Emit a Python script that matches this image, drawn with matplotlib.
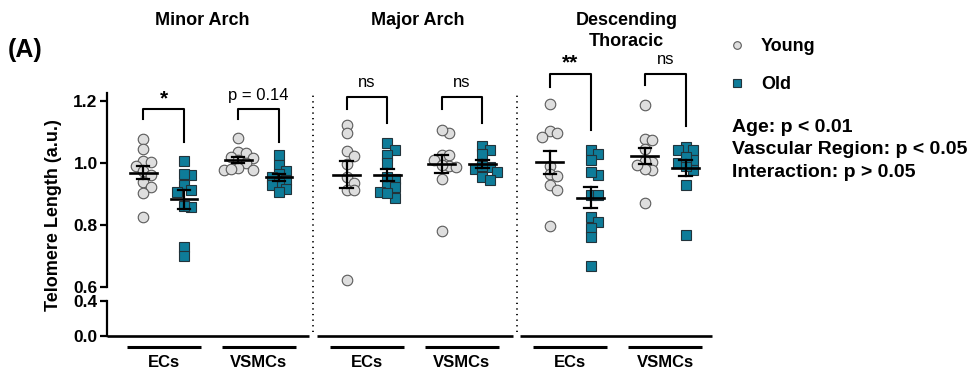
import numpy as np
import matplotlib
matplotlib.use("Agg")
import matplotlib.pyplot as plt
from matplotlib.lines import Line2D

plt.rcParams['font.family'] = ['Liberation Sans', 'DejaVu Sans']

# telomere length (a.u.)
regions = ['Minor Arch', 'Major Arch', 'Descending\nThoracic']
cells = ['ECs', 'VSMCs']
groups = ['Young', 'Old']

minor_ecs_young = [1.076, 1.046, 1.006, 1.003, 0.99, 0.975, 0.96, 0.939, 0.923, 0.903, 0.826]
minor_ecs_old = [1.005, 0.962, 0.966, 0.928, 0.906, 0.912, 0.860, 0.863, 0.729, 0.702]
minor_vsmc_young = [1.079, 1.036, 1.033, 1.02, 1.015, 1.01, 1.0, 0.985, 0.979, 0.979, 0.982]
minor_vsmc_old = [1.025, 0.995, 0.975, 0.965, 0.955, 0.944, 0.935, 0.928, 0.915, 0.906]

major_ecs_young = [1.122, 1.095, 1.038, 1.023, 0.998, 0.955, 0.937, 0.914, 0.914, 0.624]
major_ecs_old = [1.063, 1.041, 1.025, 1.001, 0.950, 0.955, 0.925, 0.923, 0.906, 0.888, 0.902]
major_vsmc_young = [1.098, 1.105, 1.027, 1.025, 1.009, 0.99, 0.987, 0.993, 0.950, 0.781]
major_vsmc_old = [1.054, 1.043, 1.030, 0.987, 0.982, 0.99, 0.971, 0.955, 0.946]

desc_ecs_young = [1.189, 1.102, 1.097, 1.082, 0.989, 0.964, 0.957, 0.928, 0.914, 0.799]
desc_ecs_old = [1.041, 1.028, 1.011, 0.960, 0.971, 0.896, 0.896, 0.828, 0.810, 0.792, 0.761, 0.670]
desc_vsmc_young = [1.186, 1.076, 1.073, 1.046, 1.003, 1.006, 0.976, 0.982, 0.993, 0.871]
desc_vsmc_old = [1.052, 1.043, 1.041, 1.009, 1.0, 0.976, 0.93, 0.769, 0.99, 1.02]

sig_labels = ['*', 'p = 0.14', 'ns', 'ns', '**', 'ns']
stats_text = 'Age: p < 0.01\nVascular Region: p < 0.05\nInteraction: p > 0.05'

data = [
    [[minor_ecs_young, minor_ecs_old], [minor_vsmc_young, minor_vsmc_old]],
    [[major_ecs_young, major_ecs_old], [major_vsmc_young, major_vsmc_old]],
    [[desc_ecs_young, desc_ecs_old], [desc_vsmc_young, desc_vsmc_old]],
]

young_face, young_edge = '#dedede', '#5a5a5a'
old_face, old_edge = '#0e7c99', '#22333a'

PANEL_W = 2.14   # distance between regions
GROUP_W = 0.43   # young -> old
UNIT_PX = 95.0


# broken y axis: 0-0.4 compressed, gap, 0.6 and up stretched
def fwd(v):
    v = np.asarray(v, dtype=float)
    return np.where(v <= 0.4, v * 87.5,
                    np.where(v >= 0.6, 48.4 + (v - 0.6) * 310.0, 35.0 + (v - 0.4) * 67.0))


def inv(y):
    y = np.asarray(y, dtype=float)
    return np.where(y <= 35.0, y / 87.5,
                    np.where(y >= 48.4, 0.6 + (y - 48.4) / 310.0, 0.4 + (y - 35.0) / 67.0))


def swarm(vals, d_px=7.0, step_px=7.3):
    vals = np.asarray(vals)
    ypx = fwd(vals)
    offs = np.zeros(len(vals))
    placed = []
    for i in np.argsort(-vals):
        for k in [0, 1, -1, 2, -2, 3, -3]:
            x = k * step_px
            if all((x - px) ** 2 + (ypx[i] - py) ** 2 >= d_px ** 2 for px, py in placed):
                break
        offs[i] = x
        placed.append((x, ypx[i]))
    return offs / UNIT_PX


fig = plt.figure(figsize=(9.71, 3.75), dpi=100)
ax = fig.add_axes([0.1099, 0.104, 0.6265, 0.648])
ax.set_yscale('function', functions=(fwd, inv))
ax.set_ylim(0, 1.225)
ax.set_xlim(-0.385, 6.02)

for s in ax.spines.values():
    s.set_visible(False)
ax.set_xticks([])
ax.set_yticks([0.0, 0.4, 0.6, 0.8, 1.0, 1.2])
ax.set_yticklabels(['0.0', '0.4', '0.6', '0.8', '1.0', '1.2'], fontweight='bold', fontsize=12.5)
ax.tick_params(axis='y', length=5, width=1.6, pad=1.5)
ax.minorticks_off()

ytr = ax.get_yaxis_transform()
xtr = ax.get_xaxis_transform()
# broken y spine
ax.plot([0, 0], [0, 0.4], transform=ytr, color='black', lw=1.6, clip_on=False)
ax.plot([0, 0], [0.6, 1.225], transform=ytr, color='black', lw=1.6, clip_on=False)

# bracket geometry per panel: top, left-leg end, right-leg end, label y
bracket_top = [1.172, 1.213, 1.286]
left_end = [[1.14, 1.14], [1.175, 1.175], [1.243, 1.25]]
right_end = [[1.068, 1.068], [1.127, 1.127], [1.105, 1.12]]
label_y = [1.203, 1.245, 1.318]
title_x = [0.62, 2.89, 5.09]
title_y = [1.30, 1.30, 1.255]

for p in range(3):
    base = p * PANEL_W
    # x axis segment and separator
    left = -0.385 if p == 0 else base - 0.31
    right = base + 1.71 if p == 2 else base + PANEL_W - 0.39
    ax.plot([left, right], [0, 0], color='black', lw=1.9, clip_on=False, solid_capstyle='butt')
    if p > 0:
        ax.plot([base - 0.35, base - 0.35], [0.05, 1.225], color='black', lw=1.3,
                linestyle=(0, (0.7, 2.4)), clip_on=False)
    ax.text(title_x[p], title_y[p], regions[p], transform=xtr, ha='center', va='center',
            fontsize=13, fontweight='bold', linespacing=1.25)

    for c in range(2):
        cx = base + c
        for g in range(2):
            vals = np.asarray(data[p][c][g])
            x0 = cx + g * GROUP_W
            xs = x0 + swarm(vals)
            if g == 0:
                ax.plot(xs, vals, 'o', ms=7.6, mfc=young_face, mec=young_edge, mew=0.8,
                        zorder=3, clip_on=False)
            else:
                ax.plot(xs, vals, 's', ms=7.6, mfc=old_face, mec=old_edge, mew=0.8,
                        zorder=3, clip_on=False)
            m = vals.mean()
            se = vals.std(ddof=1) / np.sqrt(len(vals))
            ax.plot([x0 - 0.14, x0 + 0.14], [m, m], color='black', lw=1.9, zorder=5)
            ax.plot([x0, x0], [m - se, m + se], color='black', lw=1.6, zorder=5)
            for e in (m - se, m + se):
                ax.plot([x0 - 0.065, x0 + 0.065], [e, e], color='black', lw=1.6, zorder=5)

        # significance bracket
        xa, xb = cx, cx + GROUP_W
        ax.plot([xa, xa, xb, xb], [left_end[p][c], bracket_top[p], bracket_top[p], right_end[p][c]],
                color='black', lw=1.5, clip_on=False)
        lab = sig_labels[p * 2 + c]
        if '*' in lab:
            ax.text((xa + xb) / 2, label_y[p] - 0.015, lab, ha='center', va='baseline',
                    fontsize=15, fontweight='bold')
        else:
            ax.text((xa + xb) / 2, label_y[p], lab, ha='center', va='baseline', fontsize=12)

        # underline + category label
        mid = cx + GROUP_W / 2
        ax.plot([mid - 0.39, mid + 0.39], [-0.045, -0.045], transform=xtr, color='black',
                lw=2.2, clip_on=False, solid_capstyle='butt')
        ax.text(mid, -0.11, cells[c], transform=xtr, ha='center', va='center',
                fontsize=12, fontweight='bold')

fig.text(53 / 971, 1 - 215 / 375, 'Telomere Length (a.u.)', rotation=90, ha='center',
         va='center', fontsize=13, fontweight='bold')
fig.text(8 / 971, 1 - 50 / 375, '(A)', ha='left', va='center', fontsize=18, fontweight='bold')

handles = [
    Line2D([], [], marker='o', ls='none', ms=5.5, mfc=young_face, mec=young_edge, mew=0.8),
    Line2D([], [], marker='s', ls='none', ms=5.5, mfc=old_face, mec=old_edge, mew=0.8),
]
fig.legend(handles, groups, loc='upper left', bbox_to_anchor=(0.752, 0.898), frameon=False,
           prop={'weight': 'bold', 'size': 13}, handlelength=0.8, handletextpad=0.9,
           labelspacing=1.15, borderpad=0, borderaxespad=0)
fig.text(732 / 971, 1 - 150 / 375, stats_text, ha='left', va='center', fontsize=14,
         fontweight='bold', linespacing=1.42)

fig.savefig('out.png', dpi=100)
